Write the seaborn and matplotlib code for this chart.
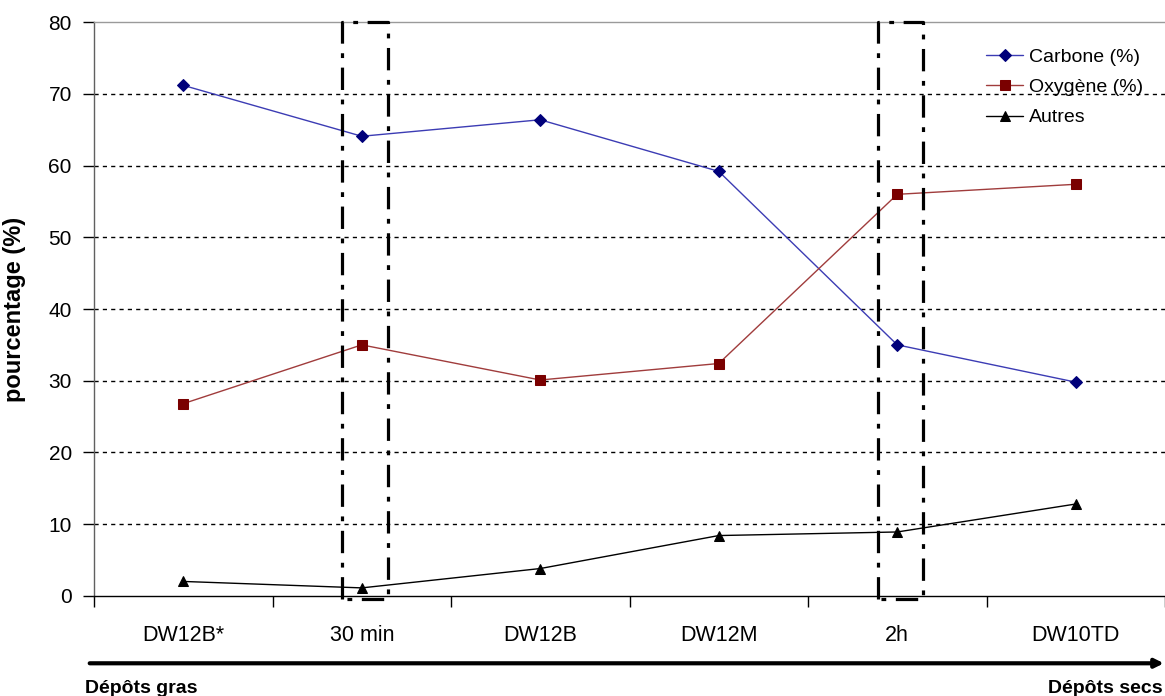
import matplotlib
matplotlib.use("Agg")
import matplotlib.pyplot as plt
import seaborn as sns
import pandas as pd

# Data
categories = ["DW12B*", "30 min", "DW12B", "DW12M", "2h", "DW10TD"]
carbone = [71.2, 64.1, 66.4, 59.2, 35.0, 29.8]
oxygene = [26.8, 35.0, 30.1, 32.4, 56.0, 57.4]
autres = [2.0, 1.1, 3.8, 8.4, 8.9, 12.8]
series_names = ["Carbone (%)", "Oxygène (%)", "Autres"]
highlighted = ["30 min", "2h"]  # samples framed by dash-dot boxes
y_ticks = [0, 10, 20, 30, 40, 50, 60, 70, 80]
arrow_left = "Dépôts gras"
arrow_right = "Dépôts secs"

sns.set_style("white")
plt.rcParams["font.family"] = ["Liberation Sans", "DejaVu Sans"]
plt.rcParams["text.color"] = "#000000"
plt.rcParams["axes.labelcolor"] = "#000000"
plt.rcParams["xtick.color"] = "#000000"
plt.rcParams["ytick.color"] = "#000000"

fig = plt.figure(figsize=(11.65, 6.96), dpi=100)
ax = fig.add_axes([0.0807, 0.144, 0.9193, 0.824])

df = pd.DataFrame({"sample": categories, series_names[0]: carbone,
                   series_names[1]: oxygene, series_names[2]: autres})

# line colour, marker colour, marker, marker size
styles = {
    series_names[0]: ("#3c3cb4", "#00007a", "D", 6),
    series_names[1]: ("#a03c3c", "#7a0000", "s", 6.5),
    series_names[2]: ("#000000", "#000000", "^", 7),
}
for name in series_names:
    lc, mc, mk, ms = styles[name]
    sns.lineplot(data=df, x="sample", y=name, sort=False, ax=ax, color=lc,
                 linewidth=1, marker=mk, markersize=ms, markerfacecolor=mc,
                 markeredgecolor=mc, label=name)

ax.set_xlim(-0.5, len(categories) - 0.5)
ax.set_ylim(y_ticks[0], y_ticks[-1])
ax.set_yticks(y_ticks)
ax.set_yticklabels([str(v) for v in y_ticks], fontsize=15)

# category labels centred, tick marks on the boundaries
ax.set_xticks(range(len(categories)))
ax.set_xticklabels(categories, fontsize=15.5)
ax.tick_params(axis="x", which="major", length=0, pad=21, bottom=True)
ax.set_xticks([i - 0.5 for i in range(len(categories) + 1)], minor=True)
ax.tick_params(axis="x", which="minor", length=8, width=1, direction="out", bottom=True)
ax.tick_params(axis="y", length=8, width=1, direction="out", pad=8, left=True)
ax.set_xlabel("")

ax.set_ylabel("pourcentage (%)", fontsize=17, fontweight="bold")
ax.yaxis.set_label_coords(-0.0635, 0.5)

# dashed horizontal gridlines
for v in y_ticks[1:-1]:
    ax.axhline(v, color="#000000", linewidth=1, linestyle=(0, (3, 3)), zorder=0)

ax.spines["right"].set_visible(False)
ax.spines["top"].set_color("#9a9a9a")
ax.spines["top"].set_linewidth(1)
ax.spines["left"].set_color("#606060")
ax.spines["bottom"].set_color("#000000")
ax.spines["left"].set_linewidth(1)
ax.spines["bottom"].set_linewidth(1)

# dash-dot frames around the two time points
for lab in highlighted:
    i = categories.index(lab)
    x0, x1 = i - 0.11, i + 0.145
    y0, y1 = -0.5, y_ticks[-1]
    ax.plot([x0, x0, x1, x1, x0], [y0, y1, y1, y0, y0], color="#000000",
            linewidth=2.3, linestyle=(0, (7, 3, 1.5, 3)), clip_on=False, zorder=5)

leg = ax.legend(loc="upper right", bbox_to_anchor=(0.996, 0.985), frameon=False,
                fontsize=14, handlelength=1.9, handletextpad=0.3, labelspacing=0.65)

# process arrow under the axis
ax.annotate("", xy=(0.999, 0.047), xytext=(0.077, 0.047), xycoords="figure fraction",
            textcoords="figure fraction",
            arrowprops=dict(arrowstyle="-|>,head_length=0.5,head_width=0.25",
                            color="#000000", linewidth=3, shrinkA=0, shrinkB=0))
fig.text(0.073, 0.011, arrow_left, fontsize=14, fontweight="bold", ha="left", va="center")
fig.text(0.998, 0.011, arrow_right, fontsize=14, fontweight="bold", ha="right", va="center")

fig.savefig("out.png", dpi=100)
